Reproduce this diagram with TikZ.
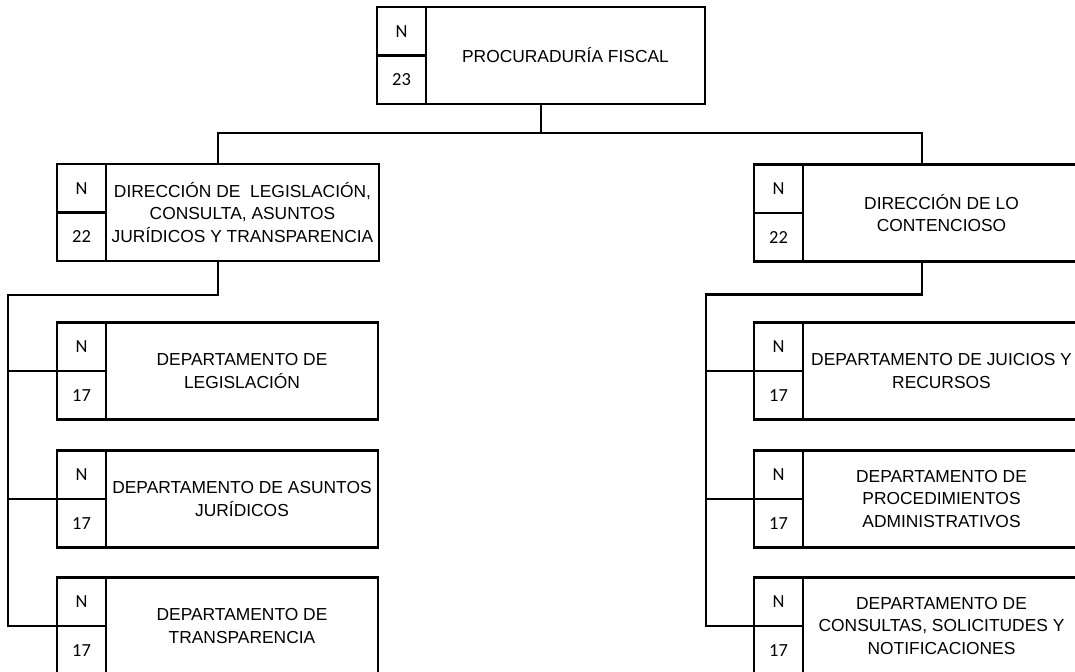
\documentclass[tikz,border=0pt]{standalone}
\usepackage{fontspec}
\setmainfont{Liberation Sans}
\newfontfamily\cellfont{Carlito}
\usetikzlibrary{calc}
\newcommand{\pxu}{0.02cm}

\begin{document}
\begin{tikzpicture}[x=0.02cm,y=-0.02cm,line width=1.3pt,
    unitbox/.style={draw,rectangle,inner sep=0pt,outer sep=0pt,minimum height=97*\pxu},
    cellbox/.style={draw,rectangle,inner sep=0pt,outer sep=0pt,anchor=north west,
      minimum width=49*\pxu,minimum height=48.5*\pxu,font=\cellfont\fontsize{10.5}{12}\selectfont},
    title/.style={align=center,inner sep=0pt,font=\fontsize{9.9}{13}\selectfont},
    rtitle/.style={title,xshift=-5*\pxu}]
    \clip (0,0) rectangle (1075,672);
    % Procuraduria
    \node[unitbox,minimum width=328*\pxu] (pf) at (541,55.5) {};
    \node[cellbox] (pf-n) at (pf.north west) {N};
    \node[cellbox] (pf-k) at (pf-n.south west) {23};
    \node[title] (pf-t) at ($(pf-n.north east)!0.5!(pf.south east)$) {PROCURADURÍA FISCAL};
    % direcciones
    \node[unitbox,minimum width=322*\pxu] (ld) at (218,212.5) {};
    \node[cellbox] (ld-n) at (ld.north west) {N};
    \node[cellbox] (ld-k) at (ld-n.south west) {22};
    \node[title] (ld-t) at ($(ld-n.north east)!0.5!(ld.south east)$) {DIRECCIÓN DE~ LEGISLACIÓN,\\CONSULTA, ASUNTOS\\JURÍDICOS Y TRANSPARENCIA};
    \node[unitbox,minimum width=336*\pxu] (rd) at (922,213) {};
    \node[cellbox] (rd-n) at (rd.north west) {N};
    \node[cellbox] (rd-k) at (rd-n.south west) {22};
    \node[rtitle] (rd-t) at ($(rd-n.north east)!0.5!(rd.south east)$) {DIRECCIÓN DE LO\\CONTENCIOSO};
    % departamentos izquierda
    \node[unitbox,minimum width=321*\pxu] (ld1) at (217.5,371) {};
    \node[cellbox] (ld1-n) at (ld1.north west) {N};
    \node[cellbox] (ld1-k) at (ld1-n.south west) {17};
    \node[title] (ld1-t) at ($(ld1-n.north east)!0.5!(ld1.south east)$) {DEPARTAMENTO DE\\LEGISLACIÓN};
    \node[unitbox,minimum width=321*\pxu] (ld2) at (217.5,499) {};
    \node[cellbox] (ld2-n) at (ld2.north west) {N};
    \node[cellbox] (ld2-k) at (ld2-n.south west) {17};
    \node[title] (ld2-t) at ($(ld2-n.north east)!0.5!(ld2.south east)$) {DEPARTAMENTO DE ASUNTOS\\JURÍDICOS};
    \node[unitbox,minimum width=321*\pxu] (ld3) at (217.5,626) {};
    \node[cellbox] (ld3-n) at (ld3.north west) {N};
    \node[cellbox] (ld3-k) at (ld3-n.south west) {17};
    \node[title] (ld3-t) at ($(ld3-n.north east)!0.5!(ld3.south east)$) {DEPARTAMENTO DE\\TRANSPARENCIA};
    % departamentos derecha
    \node[unitbox,minimum width=336*\pxu] (rd1) at (922,371) {};
    \node[cellbox] (rd1-n) at (rd1.north west) {N};
    \node[cellbox] (rd1-k) at (rd1-n.south west) {17};
    \node[rtitle] (rd1-t) at ($(rd1-n.north east)!0.5!(rd1.south east)$) {DEPARTAMENTO DE JUICIOS Y\\RECURSOS};
    \node[unitbox,minimum width=336*\pxu] (rd2) at (922,499) {};
    \node[cellbox] (rd2-n) at (rd2.north west) {N};
    \node[cellbox] (rd2-k) at (rd2-n.south west) {17};
    \node[rtitle] (rd2-t) at ($(rd2-n.north east)!0.5!(rd2.south east)$) {DEPARTAMENTO DE\\PROCEDIMIENTOS\\ADMINISTRATIVOS};
    \node[unitbox,minimum width=336*\pxu] (rd3) at (922,626) {};
    \node[cellbox] (rd3-n) at (rd3.north west) {N};
    \node[cellbox] (rd3-k) at (rd3-n.south west) {17};
    \node[rtitle] (rd3-t) at ($(rd3-n.north east)!0.5!(rd3.south east)$) {DEPARTAMENTO DE\\CONSULTAS, SOLICITUDES Y\\NOTIFICACIONES};
    % lineas
    \coordinate (bus) at ($(pf.south)+(0,29)$);
    \draw (pf.south) -- (bus);
    \draw (ld.north) |- (bus) -| (rd.north);
    \coordinate (lspine) at ($(ld.south)+(-210,34)$);
    \draw (ld.south) |- (lspine) |- (ld3.west);
    \draw (lspine |- ld1.west) -- (ld1.west);
    \draw (lspine |- ld2.west) -- (ld2.west);
    \coordinate (rspine) at ($(rd.south)+(-216,33)$);
    \draw (rd.south) |- (rspine) |- (rd3.west);
    \draw (rspine |- rd1.west) -- (rd1.west);
    \draw (rspine |- rd2.west) -- (rd2.west);
\end{tikzpicture}
\end{document}
